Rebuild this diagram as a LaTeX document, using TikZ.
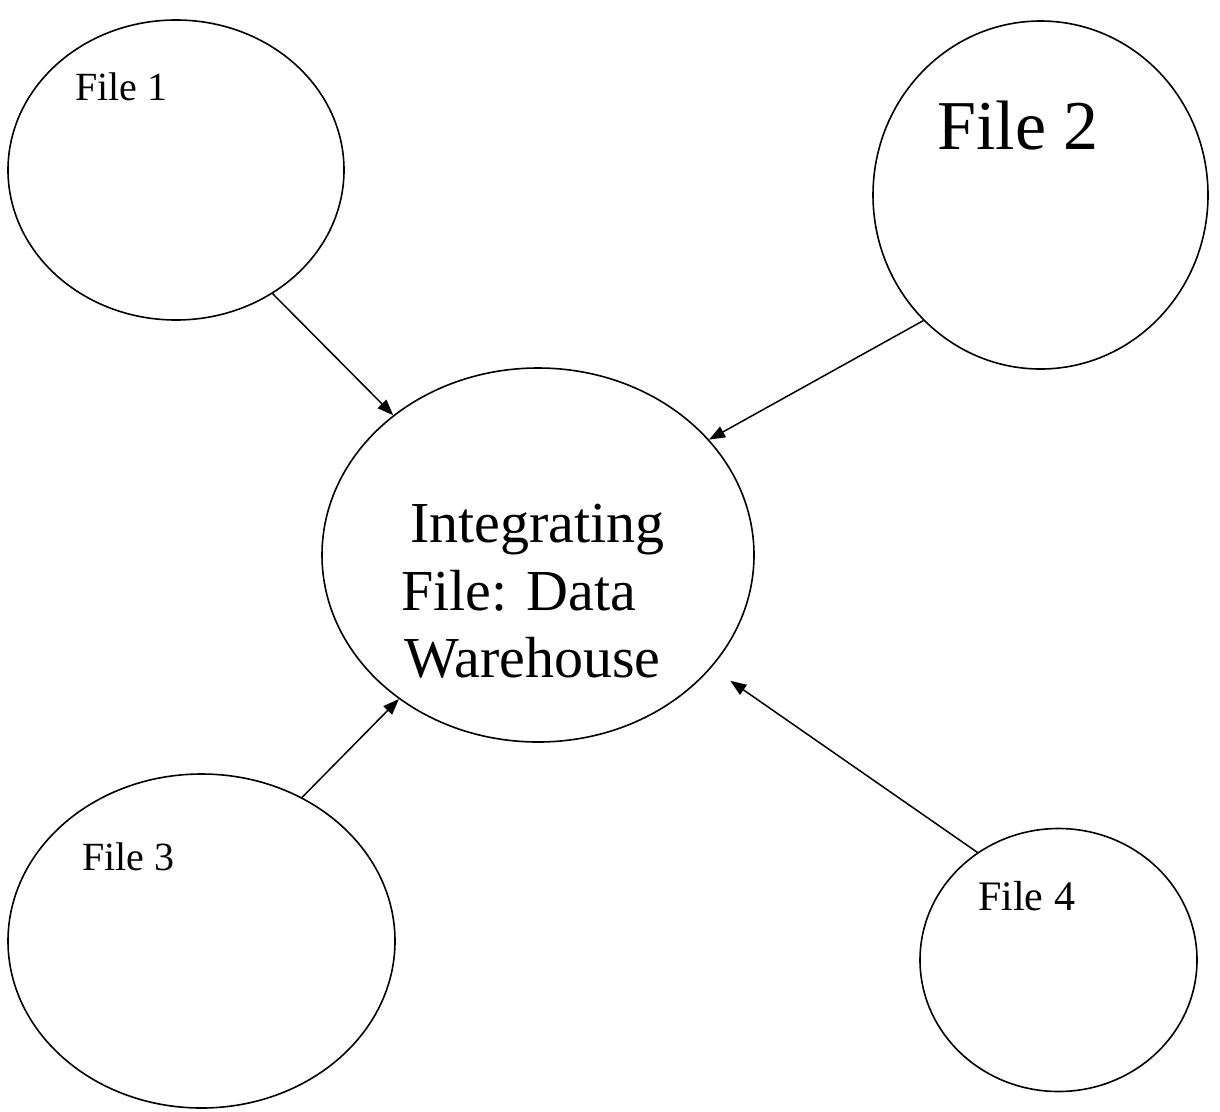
\documentclass[tikz,border=0pt]{standalone}
\usepackage{fontspec}
\setmainfont{Liberation Serif}
\usetikzlibrary{arrows.meta,shapes.geometric}
\begin{document}
\begin{tikzpicture}[x=1pt,y=-1pt,
  blob/.style={draw,ellipse,line width=1.6pt,inner sep=0pt},
  lab/.style={anchor=base west,inner sep=0pt},
  conn/.style={line width=1.5pt,-{Triangle[length=16pt,width=12pt]}}]
\useasboundingbox (0,0) rectangle (1220,1111);
\node[blob,minimum width=336pt,minimum height=300pt] (f1) at (176,170) {};
\node[blob,minimum width=335pt,minimum height=348pt] (f2) at (1040.5,195) {};
\node[blob,minimum width=432pt,minimum height=374pt] (c) at (538,555) {};
\node[blob,minimum width=387pt,minimum height=334pt] (f3) at (201.5,941) {};
\node[blob,minimum width=277pt,minimum height=263pt] (f4) at (1058.5,960) {};
\node[lab,font=\fontsize{40}{48}\selectfont] (t1) at (75,100) {File 1};
\node[lab,font=\fontsize{70}{84}\selectfont] (t2) at (937,149) {File 2};
\node[lab,font=\fontsize{58}{70}\selectfont] (ta) at (410,542) {Integrating};
\node[lab,font=\fontsize{58}{70}\selectfont] (tb) at (401,610) {File: Data};
\node[lab,font=\fontsize{58}{70}\selectfont] (tc) at (404,677) {Warehouse};
\node[lab,font=\fontsize{40}{48}\selectfont] (t3) at (82,870) {File 3};
\node[lab,font=\fontsize{42}{50}\selectfont] (t4) at (978,910) {File 4};
\draw[conn] (f1.-52.4) -- (c.136);
\draw[conn] (f2.-133.5) -- (c.34.2);
\draw[conn] (f3.55.8) -- (c.-134);
\draw[conn,shorten >=23pt] (f4.127.8) -- (c.-33.2);
\end{tikzpicture}
\end{document}
